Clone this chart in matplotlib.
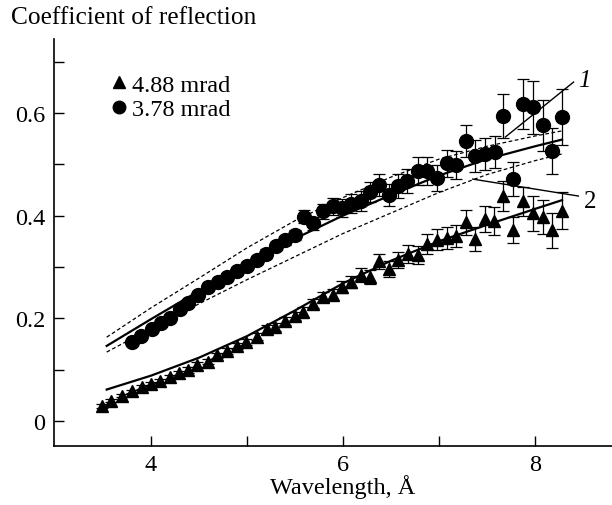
import matplotlib
matplotlib.use("Agg")
import matplotlib.pyplot as plt
from matplotlib.lines import Line2D
from matplotlib.ticker import FixedLocator

plt.rcParams['font.family'] = ['Liberation Serif', 'DejaVu Serif']

# --- data: 3.78 mrad (circles) ---
circ_x = [3.80, 3.90, 4.01, 4.11, 4.20, 4.30, 4.39, 4.49, 4.59, 4.70, 4.79, 4.90,
          5.00, 5.10, 5.20, 5.30, 5.40, 5.50, 5.59, 5.69, 5.79, 5.90, 5.99, 6.08,
          6.19, 6.28, 6.375, 6.48, 6.57, 6.67, 6.78, 6.875, 6.98, 7.08, 7.18, 7.28,
          7.375, 7.48, 7.58, 7.67, 7.77, 7.875, 7.98, 8.08, 8.18, 8.28]
circ_y = [0.154, 0.166, 0.178, 0.190, 0.201, 0.218, 0.230, 0.246, 0.260, 0.270, 0.280, 0.292,
          0.302, 0.314, 0.326, 0.340, 0.352, 0.362, 0.398, 0.385, 0.408, 0.418, 0.415, 0.423,
          0.428, 0.446, 0.460, 0.440, 0.458, 0.467, 0.487, 0.487, 0.473, 0.502, 0.498, 0.545,
          0.516, 0.520, 0.524, 0.594, 0.471, 0.617, 0.611, 0.576, 0.526, 0.592]
circ_err = [0.004, 0.004, 0.004, 0.005, 0.005, 0.005, 0.005, 0.006, 0.006, 0.006, 0.007, 0.007,
            0.007, 0.008, 0.008, 0.008, 0.009, 0.010, 0.012, 0.013, 0.014, 0.016, 0.017, 0.018,
            0.019, 0.020, 0.021, 0.022, 0.023, 0.024, 0.027, 0.028, 0.026, 0.026, 0.027, 0.031,
            0.031, 0.031, 0.031, 0.042, 0.033, 0.049, 0.052, 0.050, 0.045, 0.055]

# --- data: 4.88 mrad (triangles) ---
tri_x = [3.49, 3.59, 3.70, 3.80, 3.91, 4.00, 4.09, 4.20, 4.29, 4.39, 4.48, 4.59,
         4.69, 4.79, 4.90, 4.99, 5.10, 5.21, 5.29, 5.40, 5.50, 5.58, 5.69, 5.79,
         5.90, 5.99, 6.08, 6.19, 6.28, 6.375, 6.48, 6.57, 6.68, 6.78, 6.875, 6.98,
         7.08, 7.18, 7.28, 7.375, 7.48, 7.57, 7.67, 7.77, 7.875, 7.98, 8.08, 8.18, 8.28]
tri_y = [0.029, 0.039, 0.049, 0.058, 0.066, 0.072, 0.078, 0.086, 0.093, 0.099, 0.109, 0.115,
         0.128, 0.136, 0.146, 0.154, 0.164, 0.179, 0.183, 0.195, 0.204, 0.212, 0.228, 0.241,
         0.246, 0.261, 0.270, 0.284, 0.280, 0.311, 0.296, 0.313, 0.325, 0.323, 0.345, 0.353,
         0.356, 0.360, 0.387, 0.354, 0.393, 0.390, 0.438, 0.372, 0.428, 0.404, 0.398, 0.371, 0.409]
tri_err = [0.003, 0.003, 0.003, 0.003, 0.004, 0.004, 0.004, 0.004, 0.004, 0.005, 0.005, 0.005,
           0.005, 0.006, 0.006, 0.006, 0.007, 0.007, 0.007, 0.008, 0.008, 0.009, 0.009, 0.010,
           0.011, 0.012, 0.012, 0.013, 0.013, 0.015, 0.015, 0.016, 0.017, 0.018, 0.019, 0.020,
           0.021, 0.022, 0.024, 0.024, 0.026, 0.027, 0.030, 0.026, 0.028, 0.034, 0.033, 0.034, 0.036]

# --- theory curves ---
fit_x = [3.54, 4.0, 4.5, 5.0, 5.5, 6.0, 6.5, 7.0, 7.5, 8.0, 8.28]
fit1 = [0.146, 0.198, 0.253, 0.306, 0.355, 0.400, 0.440, 0.478, 0.510, 0.535, 0.548]
fit1_hi = [0.163, 0.220, 0.278, 0.337, 0.390, 0.435, 0.475, 0.510, 0.535, 0.555, 0.565]
fit1_lo = [0.134, 0.180, 0.228, 0.275, 0.320, 0.365, 0.405, 0.445, 0.480, 0.507, 0.520]
fit2 = [0.061, 0.088, 0.123, 0.165, 0.215, 0.268, 0.312, 0.350, 0.382, 0.413, 0.430]

fig = plt.figure(figsize=(6.12, 5.06), dpi=100)
ax = fig.add_axes([0.088, 0.1166, 0.912, 0.8044])

dash = (0, (3, 2))
ax.plot(fit_x, fit1, color='black', lw=1.6, zorder=2)
ax.plot(fit_x, fit1_hi, color='black', lw=0.9, ls=dash, zorder=2)
ax.plot(fit_x, fit1_lo, color='black', lw=0.9, ls=dash, zorder=2)
ax.plot(fit_x, fit2, color='black', lw=1.6, zorder=2)

ax.errorbar(tri_x, tri_y, yerr=tri_err, fmt='^', color='black', ms=8,
            elinewidth=0.9, capsize=4, capthick=0.9, zorder=3)
ax.errorbar(circ_x, circ_y, yerr=circ_err, fmt='o', color='black', ms=10,
            elinewidth=0.9, capsize=4, capthick=0.9, zorder=3)

# curve labels
ax.plot([7.69, 8.40], [0.553, 0.660], color='black', lw=1.0)
ax.text(8.45, 0.664, '1', fontsize=18, style='italic', va='center', ha='left')
ax.plot([7.35, 8.45], [0.471, 0.438], color='black', lw=1.0)
ax.text(8.51, 0.428, '2', fontsize=18, va='center', ha='left')

ax.set_xlim(2.99, 8.80)
ax.set_ylim(-0.049, 0.744)
ax.xaxis.set_major_locator(FixedLocator([4, 5, 6, 7, 8]))
ax.set_xticklabels(['4', '', '6', '', '8'])
ax.yaxis.set_major_locator(FixedLocator([0, 0.1, 0.2, 0.3, 0.4, 0.5, 0.6, 0.7]))
ax.set_yticklabels(['0', '', '0.2', '', '0.4', '', '0.6', ''])
ax.tick_params(direction='in', length=7, width=1.0, labelsize=17.5, pad=6)
for s in ['top', 'right']:
    ax.spines[s].set_visible(False)
for s in ['left', 'bottom']:
    ax.spines[s].set_linewidth(1.2)

handles = [Line2D([], [], marker='^', color='black', ls='none', ms=8),
           Line2D([], [], marker='o', color='black', ls='none', ms=9)]
ax.legend(handles, ['4.88 mrad', '3.78 mrad'], loc='upper left',
          bbox_to_anchor=(0.079, 0.938), frameon=False, fontsize=17.5,
          handletextpad=0.1, labelspacing=0.1, borderaxespad=0, handlelength=0.9)

fig.text(0.018, 0.964, 'Coefficient of reflection', fontsize=18.3, va='center', ha='left')
fig.text(0.56, 0.038, 'Wavelength, Å', fontsize=17.5, va='center', ha='center')

fig.savefig('out.png', dpi=100)
